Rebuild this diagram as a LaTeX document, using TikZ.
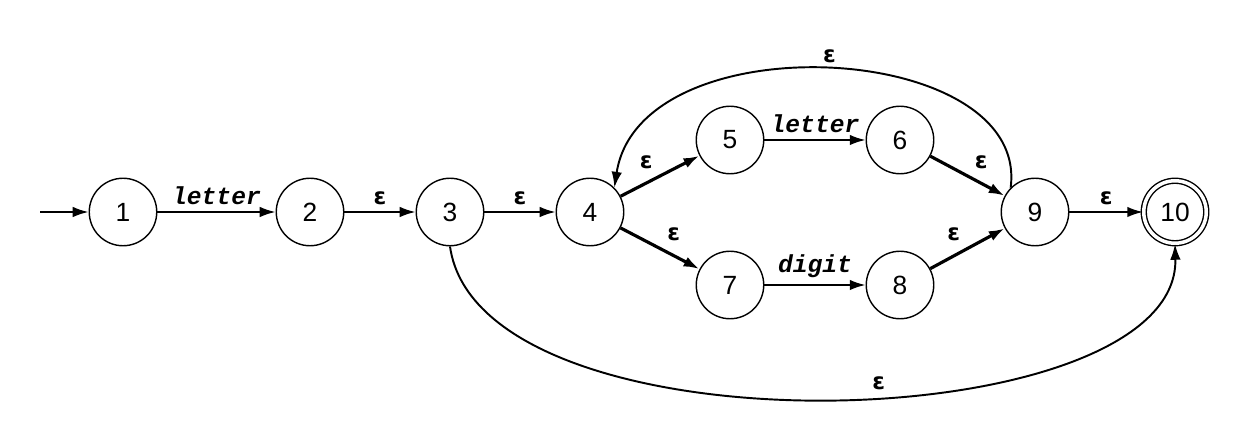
\documentclass[tikz,border=0pt]{standalone}
\usepackage{fontspec}
\setmainfont{Liberation Sans}
\newfontfamily\lblfont{Liberation Mono}
\newfontfamily\epsfont{DejaVu Sans}
\usetikzlibrary{arrows.meta}
\newcommand{\eps}{{\epsfont\bfseries ε}}
\begin{document}
\begin{tikzpicture}[x=0.02cm,y=-0.02cm,
  st/.style={circle,draw,line width=0.8pt,minimum size=1.35cm,inner sep=0pt,font=\fontsize{15}{15}\selectfont},
  acc/.style={st,double,double distance=2pt,minimum size=1.25cm},
  tr/.style={-{Latex[length=9pt,width=6pt]},line width=1.1pt},
  trt/.style={-{Latex[length=9pt,width=6pt]},line width=1.8pt},
  lb/.style={font=\lblfont\bfseries\itshape\fontsize{14}{14}\selectfont},
  ep/.style={font=\fontsize{13}{13}\selectfont}]
\useasboundingbox (0,0) rectangle (1247,448);
\node[st] (n1) at (123,212) {1};
\node[st] (n2) at (310,212) {2};
\node[st] (n3) at (450,212) {3};
\node[st] (n4) at (590,212) {4};
\node[st] (n5) at (730,140) {5};
\node[st] (n6) at (900,140) {6};
\node[st] (n7) at (730,285) {7};
\node[st] (n8) at (900,285) {8};
\node[st] (n9) at (1035,212) {9};
\node[acc] (n10) at (1175,212) {10};
\coordinate (s) at (40,212);
\draw[tr] (s) -- (n1);
\draw[tr] (n1) -- node[lb,above]{letter} (n2);
\draw[tr] (n2) -- node[ep,above]{\eps} (n3);
\draw[tr] (n3) -- node[ep,above]{\eps} (n4);
\draw[trt] (n4) -- node[ep,above left]{\eps} (n5);
\draw[trt] (n4) -- node[ep,above right]{\eps} (n7);
\draw[tr] (n5) -- node[lb,above]{letter} (n6);
\draw[tr] (n7) -- node[lb,above]{digit} (n8);
\draw[trt] (n6) -- node[ep,above right]{\eps} (n9);
\draw[trt] (n8) -- node[ep,above left]{\eps} (n9);
\draw[tr] (n9) -- node[ep,above]{\eps} (n10);
\draw[tr] (n9.north west) .. controls (1030,40) and (640,20) .. node[ep,above,pos=0.5]{\eps} (n4.north east);
\draw[tr] (n3.south) .. controls (480,460) and (1180,440) .. node[ep,above,pos=0.55]{\eps} (n10.south);
\end{tikzpicture}
\end{document}
